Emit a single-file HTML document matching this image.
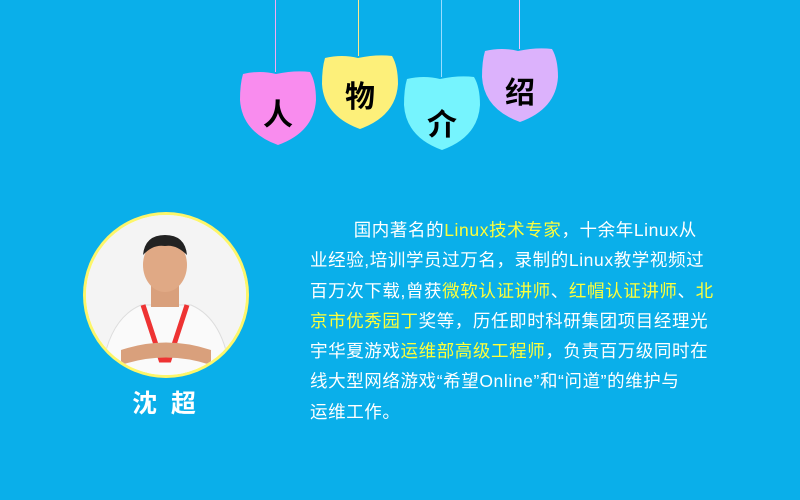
<!DOCTYPE html>
<html><head><meta charset="utf-8"><style>
body{margin:0;width:800px;height:500px;background:#0aafea;position:relative;overflow:hidden;font-family:"Liberation Sans","Noto Sans CJK SC",sans-serif}
.line{position:absolute;top:0;width:1px}
.badge{position:absolute;width:74px;height:74px}
.badge span{position:absolute;left:0;right:0;top:20px;text-align:center;font-size:30px;font-weight:bold;color:#000;font-family:"Noto Sans CJK SC",sans-serif}
.txt{position:absolute;left:310px;top:215px;color:#fff;font-size:17.5px;letter-spacing:0.6px;line-height:30.3px;white-space:pre;font-family:"Liberation Sans","Noto Sans CJK SC",sans-serif}
.y{color:#ffff3a}
</style></head><body>
<div class="line" style="left:275px;height:72px;background:#f7a8f0"></div>
<div class="line" style="left:358px;height:56px;background:#ffe98a"></div>
<div class="line" style="left:441px;height:77px;background:#9df"></div>
<div class="line" style="left:519px;height:49px;background:#e6c8ff"></div>
<svg width="800" height="500" style="position:absolute;left:0;top:0">
<defs><path id="sh" d="M3,4 Q20,0 36,4 Q55,0 70,2 Q76,12 76,30 Q74,62 38,75 Q2,62 0,30 Q0,14 3,4Z"/></defs>
<use href="#sh" x="240" y="70" fill="#f98cee"/>
<use href="#sh" x="322" y="54" fill="#fdf07a"/>
<use href="#sh" x="404" y="75" fill="#76f4fe"/>
<use href="#sh" x="482" y="47" fill="#dcb2fc"/>
</svg>
<div class="badge" style="left:241px;top:70px"><span>人</span></div>
<div class="badge" style="left:323px;top:52px"><span>物</span></div>
<div class="badge" style="left:405px;top:80px"><span>介</span></div>
<div class="badge" style="left:483px;top:48px"><span>绍</span></div>
<svg width="170" height="170" style="position:absolute;left:81px;top:210px">
<defs><clipPath id="c"><circle cx="85" cy="85" r="80"/></clipPath></defs>
<circle cx="85" cy="85" r="83" fill="#fdf66a"/>
<circle cx="85" cy="85" r="80" fill="#fff"/>
<g clip-path="url(#c)">
<rect x="0" y="0" width="170" height="170" fill="#f4f4f4"/>
<path d="M20,170 Q25,110 60,95 L110,95 Q145,110 150,170Z" fill="#fafafa" stroke="#ddd"/>
<path d="M62,95 L80,150 L88,150 L106,95" fill="none" stroke="#e33" stroke-width="5"/>
<rect x="70" y="72" width="28" height="25" fill="#d9a07c"/>
<ellipse cx="84" cy="55" rx="22" ry="27" fill="#e0a985"/>
<path d="M62,45 Q64,25 84,25 Q104,25 106,45 Q95,34 84,36 Q72,34 62,45Z" fill="#222"/>
<path d="M40,140 Q85,125 130,140 L130,155 Q85,140 40,155Z" fill="#d9a07c"/>
</g>
</svg>
<div style="position:absolute;left:116px;top:384px;width:100px;text-align:center;color:#fff;font-size:25px;font-weight:bold;letter-spacing:4px;font-family:'Noto Sans CJK SC',sans-serif">沈 超</div>
<div class="txt">        国内著名的<span class="y">Linux技术专家</span>，十余年Linux从
业经验,培训学员过万名，录制的Linux教学视频过
百万次下载,曾获<span class="y">微软认证讲师</span>、<span class="y">红帽认证讲师</span>、<span class="y">北</span>
<span class="y">京市优秀园丁</span>奖等，历任即时科研集团项目经理光
宇华夏游戏<span class="y">运维部高级工程师</span>，负责百万级同时在
线大型网络游戏“希望Online”和“问道”的维护与
运维工作。</div>
</body></html>
